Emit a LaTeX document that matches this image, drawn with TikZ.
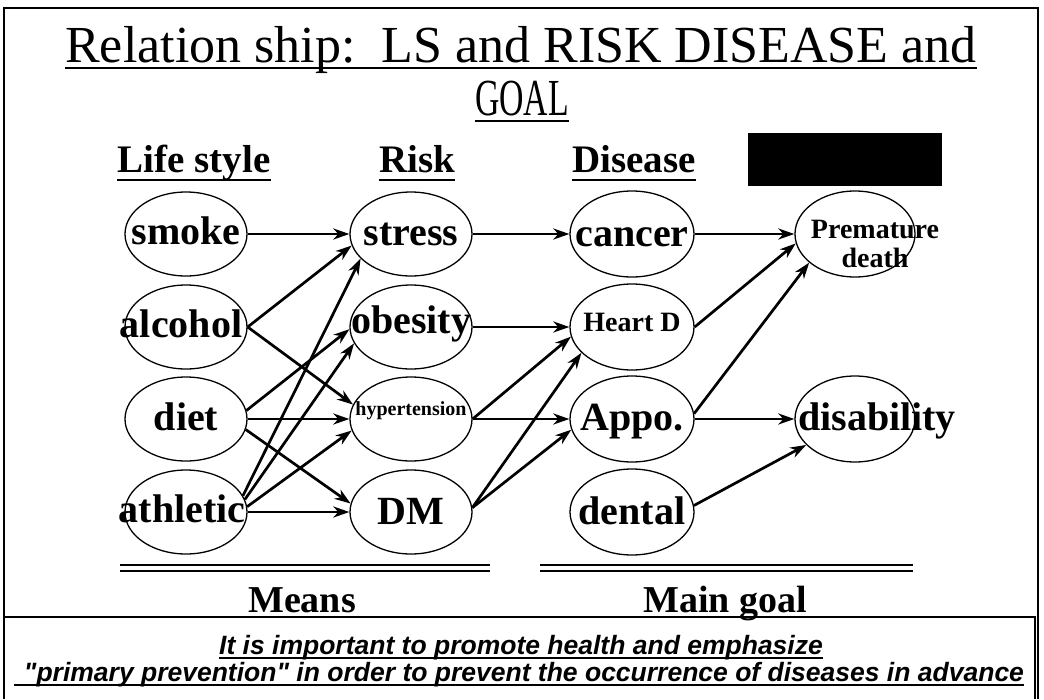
\documentclass[tikz,border=0pt]{standalone}
\usepackage{fontspec}
\setmainfont{Liberation Serif}
\setsansfont{Liberation Sans}
\usetikzlibrary{shapes.geometric,arrows.meta}

\begin{document}
\begin{tikzpicture}[x=1pt, y=-1pt,
  bubble/.style={ellipse, draw, line width=1.3pt, minimum width=122pt, minimum height=84pt, inner sep=0pt},
  dbubble/.style={bubble, minimum width=124pt, minimum height=86pt},
  gbubble/.style={bubble, minimum width=120pt, minimum height=86pt},
  word/.style={font=\fontsize{40}{40}\selectfont\bfseries, anchor=base, inner sep=0pt},
  smallword/.style={font=\fontsize{28}{29}\selectfont\bfseries, anchor=base, inner sep=0pt, align=center},
  head/.style={font=\fontsize{39}{39}\selectfont\bfseries, anchor=base, inner sep=0pt},
  foot/.style={font=\fontsize{38}{38}\selectfont\bfseries, anchor=base, inner sep=0pt},
  note/.style={font=\fontsize{26.5}{27}\selectfont\sffamily\bfseries\itshape, anchor=base, inner sep=0pt},
  uline/.style={line width=2pt},
  link/.style={line width=2.7pt, -{Stealth[length=16pt,width=11pt,inset=5pt]}}]

  \useasboundingbox (0,0) rectangle (1044,699);
  % frames
  \draw[line width=2pt] (4,699) -- (4,8) -- (1038,8) -- (1038,699);
  \draw[line width=1.6pt] (4,617) -- (1035,617) -- (1035,699);

  % title
  \node[font=\fontsize{52}{52}\selectfont, anchor=base, inner sep=0pt] (title1) at (521,62) {Relation ship:\ \ LS and RISK DISEASE and};
  \node[font=\fontsize{52}{52}\selectfont, anchor=base, inner sep=0pt] (title2) at (522,115) {\scalebox{0.65}[1]{GOAL}};

  % column heads
  \node[head] (hls) at (194,172) {Life style};
  \node[head] (hrisk) at (417,172) {Risk};
  \node[head] (hdis) at (634,172) {Disease};
  \fill (748,133) rectangle (942,186);

  \foreach \n/\d in {title1/6, title2/6, hls/8, hrisk/8, hdis/8}
    \draw[uline] ([yshift=-\d pt]\n.base west) -- ([yshift=-\d pt]\n.base east);

  % life style
  \node[bubble] (smoke) at (186,234) {};
  \node[word] (smokeT) at ([yshift=-10pt]smoke) {smoke};
  \node[bubble] (alcohol) at (186,327) {};
  \node[word] (alcoholT) at ([xshift=-5pt,yshift=-10pt]alcohol) {alcohol};
  \node[bubble] (diet) at (186,419) {};
  \node[word] (dietT) at ([yshift=-11pt]diet) {diet};
  \node[bubble] (athletic) at (186,512) {};
  \node[word] (athleticT) at ([xshift=-4pt,yshift=-10pt]athletic) {athletic};

  % risk
  \node[bubble] (stress) at (411,234) {};
  \node[word] (stressT) at ([yshift=-11pt]stress) {stress};
  \node[bubble] (obesity) at (411,327) {};
  \node[word] (obesityT) at ([yshift=-6pt]obesity) {obesity};
  \node[bubble] (hyper) at (411,419) {};
  \node[font=\fontsize{20}{20}\selectfont\bfseries, anchor=base, inner sep=0pt] (hyperT) at ([yshift=4pt]hyper) {hypertension};
  \node[bubble] (dm) at (411,512) {};
  \node[word] (dmT) at ([yshift=-12pt]dm) {DM};

  % disease
  \node[dbubble] (cancer) at (632,234) {};
  \node[word] (cancerT) at ([yshift=-12pt]cancer) {cancer};
  \node[dbubble] (heart) at (632,327) {};
  \node[smallword] (heartT) at ([yshift=-4pt]heart) {Heart D};
  \node[dbubble] (appo) at (632,419) {};
  \node[word] (appoT) at ([yshift=-11pt]appo) {Appo.};
  \node[dbubble] (dental) at (632,512) {};
  \node[word] (dentalT) at ([yshift=-12pt]dental) {dental};

  % goal
  \node[gbubble] (death) at (855,234) {};
  \node[smallword] (deathT) at ([xshift=20pt,yshift=-33pt]death) {Premature\\death};
  \node[gbubble] (disab) at (855,419) {};
  \node[word] (disabT) at ([xshift=22pt,yshift=-11pt]disab) {disability};

  % life style -> risk
  \draw[link] (smoke.east) -- (stress.west);
  \draw[link] (alcohol.east) -- (stress.191);
  \draw[link] (alcohol.east) -- (hyper.166);
  \draw[link] (diet.8) -- (obesity.182);
  \draw[link] (diet.east) -- (hyper.west);
  \draw[link] (diet.-10) -- (dm.172);
  \draw[link] (athletic.16) -- (stress.206);
  \draw[link] (athletic.12) -- (obesity.196);
  \draw[link] (athletic.5) -- (hyper.191);
  \draw[link] (athletic.east) -- (dm.west);

  % risk -> disease
  \draw[link] (stress.east) -- (cancer.west);
  \draw[link] (obesity.east) -- (heart.west);
  \draw[link] (hyper.east) -- (heart.189);
  \draw[link] (hyper.east) -- (appo.west);
  \draw[link] (dm.4) -- (heart.207);
  \draw[link] (dm.4) -- (appo.190);

  % disease -> goal
  \draw[link] (cancer.east) -- (death.west);
  \draw[link] (heart.east) -- (death.189);
  \draw[link] (appo.5) -- (death.212);
  \draw[link] (appo.east) -- (disab.west);
  \draw[link] (dental.6) -- (disab.208);

  % double rules
  \draw[line width=1.8pt] (120,565) -- (490,565) (120,571) -- (490,571);
  \draw[line width=1.8pt] (540,565) -- (913,565) (540,571) -- (913,571);
  \node[foot] (means) at (302,612) {Means};
  \node[foot] (maingoal) at (725,612) {Main goal};

  % note
  \node[note] (note1) at (521,654) {It is important to promote health and emphasize};
  \node[note] (note2) at (524,681) {\textquotedbl primary prevention\textquotedbl\ in order to prevent the occurrence of diseases in advance};
  \draw[line width=1.4pt] ([yshift=-4pt]note1.base west) -- ([yshift=-4pt]note1.base east);
  \draw[line width=1.4pt] ([xshift=-10pt,yshift=-4pt]note2.base west) -- ([yshift=-4pt]note2.base east);
\end{tikzpicture}
\end{document}
